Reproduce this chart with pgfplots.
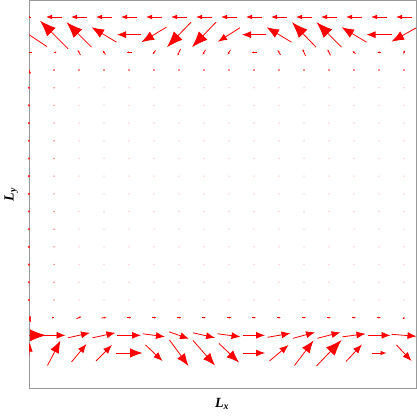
\documentclass[border=0pt]{standalone}
\usepackage{fontspec}
\setmainfont{Liberation Serif}
\usepackage{pgfplots}
\usepackage{pgfplotstable}
\pgfplotsset{compat=1.18}
\usetikzlibrary{arrows.meta}

% x = column, y = row of the sample grid; u, v = arrow extent in px (v up)
\pgfplotstableread{
x y u v
0 0 2 21
1 0 13 25
2 0 15 18
3 0 16 16
4 0 27 0
5 0 17 -16
6 0 19 -26
7 0 22 -25
8 0 20 -19
9 0 22 0
10 0 19 16
11 0 19 25
12 0 25 26
13 0 16 17
14 0 15 0
15 0 15 -16
0 1 34 0
1 1 23 0
2 1 22 5
3 1 23 5
4 1 24 0
5 1 22 -3
6 1 20 -7
7 1 22 -5
8 1 23 -3
9 1 22 0
10 1 23 4
11 1 22 6
12 1 23 6
13 1 23 3
14 1 23 0
15 1 25 -2
0 2 4 -10
1 2 1 0
2 2 5 2
3 2 5 1
4 2 5 0
5 2 5 0
6 2 5 0
7 2 4 0
8 2 5 0
9 2 4 0
10 2 4 0
11 2 4 0
12 2 4 0
13 2 4 0
14 2 4 0
15 2 1 2
0 16 3 -9
0 17 -5 0
1 17 -1 0
2 17 -3 5
3 17 -3 4
4 17 -5 0
5 17 -3 -4
6 17 -3 -7
7 17 -3 -5
8 17 -3 -5
9 17 -5 0
10 17 -3 5
11 17 -3 7
12 17 -3 6
13 17 -3 3
14 17 -4 0
15 17 -2 -3
0 18 -36 24
1 18 -28 28
2 18 -25 25
3 18 -25 15
4 18 -24 0
5 18 -25 -15
6 18 -24 -25
7 18 -24 -25
8 18 -22 -14
9 18 -24 0
10 18 -25 15
11 18 -24 25
12 18 -25 25
13 18 -25 15
14 18 -25 0
15 18 -25 -14
0 19 -4 0
1 19 -16 0
2 19 -16 0
3 19 -16 0
4 19 -16 0
5 19 -16 0
6 19 -16 0
7 19 -16 0
8 19 -16 0
9 19 -16 0
10 19 -16 0
11 19 -16 0
12 19 -16 0
13 19 -16 0
14 19 -16 0
15 19 -16 0
}\field

% one quiver per length class, each with its own head size
\pgfplotsset{
    vec/.style n args={4}{
        red, line width=0.8bp,
        restrict expr to domain={sqrt(\thisrow{u}^2+\thisrow{v}^2)}{#1:#2},
        quiver={u=\thisrow{u}/25, v=\thisrow{v}/17.68,
            every arrow/.append style={-{Latex[length=#3bp, width=#4bp]}}},
    },
}
\newcommand\vecs[4]{%
    \addplot[vec={#1}{#2}{#3}{#4}]
        table[x expr=\thisrow{x}-\thisrow{u}/50, y expr=\thisrow{y}-\thisrow{v}/35.36] {\field};}

\begin{document}
\begin{tikzpicture}
\begin{axis}[
    scale only axis,
    width=387bp, height=387bp,
    xmin=0, xmax=15.48,
    ymin=-1.98, ymax=19.905,
    xtick=\empty, ytick=\empty,
    axis line style={gray!80, line width=1bp},
    label style={font=\fontsize{14bp}{16bp}\selectfont},
    xlabel={\textbf{\textit{L\textsubscript{x}}}},
    ylabel={\textbf{\textit{L\textsubscript{y}}}},
    xlabel style={at={(axis description cs:0.4987,-0.041)}, anchor=center},
    ylabel style={at={(axis description cs:-0.046,0.5)}, anchor=center},
]
% faint interior samples
\addplot[only marks, mark=*, mark size=0.5bp, red!18, mark options={draw=none, fill=red!18}] coordinates {
(2,3) (3,3) (4,3) (5,3) (6,3) (7,3) (8,3) (9,3) (10,3) (11,3) (12,3) (13,3) (14,3) (15,3)
(2,4) (3,4) (4,4) (5,4) (6,4) (7,4) (8,4) (9,4) (10,4) (11,4) (12,4) (13,4) (14,4) (15,4)
(2,5) (3,5) (4,5) (5,5) (6,5) (7,5) (8,5) (9,5) (10,5) (11,5) (12,5) (13,5) (14,5) (15,5)
(2,6) (3,6) (4,6) (5,6) (6,6) (7,6) (8,6) (9,6) (10,6) (11,6) (12,6) (13,6) (14,6) (15,6)
(2,7) (3,7) (4,7) (5,7) (6,7) (7,7) (8,7) (9,7) (10,7) (11,7) (12,7) (13,7) (14,7) (15,7)
(2,8) (3,8) (4,8) (5,8) (6,8) (7,8) (8,8) (9,8) (10,8) (11,8) (12,8) (13,8) (14,8) (15,8)
(2,9) (3,9) (4,9) (5,9) (6,9) (7,9) (8,9) (9,9) (10,9) (11,9) (12,9) (13,9) (14,9) (15,9)
(2,10) (3,10) (4,10) (5,10) (6,10) (7,10) (8,10) (9,10) (10,10) (11,10) (12,10) (13,10) (14,10) (15,10)
(2,11) (3,11) (4,11) (5,11) (6,11) (7,11) (8,11) (9,11) (10,11) (11,11) (12,11) (13,11) (14,11) (15,11)
(2,12) (3,12) (4,12) (5,12) (6,12) (7,12) (8,12) (9,12) (10,12) (11,12) (12,12) (13,12) (14,12) (15,12)
(2,13) (3,13) (4,13) (5,13) (6,13) (7,13) (8,13) (9,13) (10,13) (11,13) (12,13) (13,13) (14,13) (15,13)
(2,14) (3,14) (4,14) (5,14) (6,14) (7,14) (8,14) (9,14) (10,14) (11,14) (12,14) (13,14) (14,14) (15,14)
(2,15) (3,15) (4,15) (5,15) (6,15) (7,15) (8,15) (9,15) (10,15) (11,15) (12,15) (13,15) (14,15) (15,15)
};
\addplot[only marks, mark=*, mark size=0.55bp, red!40, mark options={draw=none, fill=red!40}] coordinates {
(1,3) (1,4) (1,5) (1,6) (1,7) (1,8) (1,9) (1,10) (1,11) (1,12) (1,13) (1,14) (1,15)
};
\addplot[only marks, mark=*, mark size=0.65bp, red!75, mark options={draw=none, fill=red!75}] coordinates {
(1,16) (2,16) (3,16) (4,16) (5,16) (6,16) (7,16) (8,16) (9,16) (10,16) (11,16) (12,16) (13,16) (14,16) (15,16)
};
\addplot[only marks, mark=*, mark size=0.9bp, red!85, mark options={draw=none, fill=red!85}] coordinates {
(0,3) (0,4) (0,5) (0,6) (0,7) (0,8) (0,9) (0,10) (0,11) (0,12) (0,13) (0,14) (0,15)
};
% arrows, centred on their sample point
\vecs{0}{9.5}{2.5}{2}
\vecs{9.5}{19.5}{6}{4.5}
\vecs{19.5}{26.5}{9}{7}
\vecs{26.5}{33.5}{12.5}{9.5}
\vecs{33.5}{100}{16}{12}
\end{axis}
\pgfresetboundingbox
\path ([shift={(-29bp,-28bp)}]current axis.south west) rectangle ([shift={(1bp,1bp)}]current axis.north east);
\end{tikzpicture}
\end{document}
